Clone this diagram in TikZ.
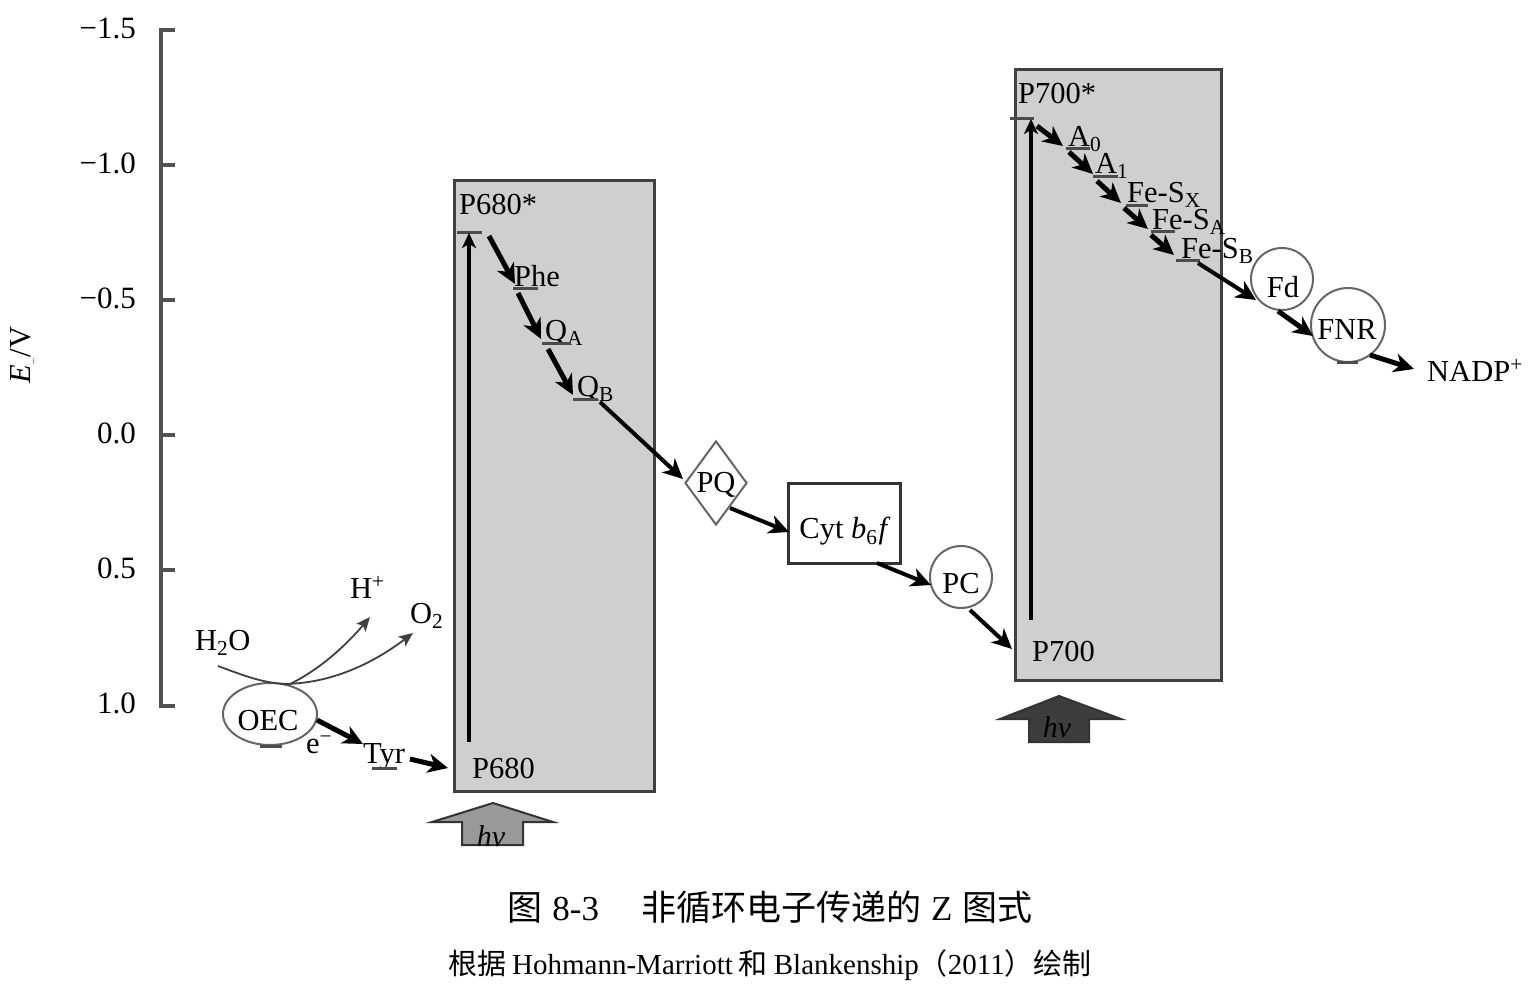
\documentclass[tikz,border=0pt]{standalone}
\usepackage{fontspec}
\setmainfont{Liberation Serif}
\newfontfamily\cjk{Noto Sans CJK SC}
\usetikzlibrary{arrows.meta,shapes.geometric}
\begin{document}
\begin{tikzpicture}[x=1pt,y=-1pt,
  axisline/.style={draw=black!68, line width=3.5pt},
  tlabel/.style={font=\fontsize{31}{33}\selectfont, anchor=east, inner sep=0pt},
  lbl/.style={font=\fontsize{30.5}{33}\selectfont, inner sep=0pt},
  lvl/.style={draw=black!70, line width=3pt},
  psbox/.style={draw=black!75, line width=3pt, fill=black!19, anchor=north west},
  et/.style={line width=5pt, -{Stealth[length=20pt,width=19pt,inset=6pt]}},
  ln/.style={line width=4pt, -{Stealth[length=20pt,width=19pt,inset=6pt]}},
  exc/.style={line width=4pt, -{Stealth[length=15pt,width=14pt,inset=4pt]}},
  carrier/.style={draw=black!60, line width=2pt, inner sep=0pt},
  thinline/.style={line width=1.8pt, draw=black!75},
  thinarr/.style={line width=1.8pt, draw=black!75, -{Stealth[length=14pt,width=12pt,inset=3pt]}},
  hvarrow/.style={draw=black!80, line width=2pt},
  hvtext/.style={font=\fontsize{30}{32}\selectfont\itshape, inner sep=0pt},
]
\useasboundingbox (0,0) rectangle (1531,985);

% ---------- axis ----------
\coordinate (axtop) at (161,30);
\coordinate (axbot) at (161,706);
\draw[axisline] (175,30) -- (axtop) -- (axbot) -- (175,706);
\foreach \yy in {165,300,435,570} \draw[axisline] (161,\yy) -- (175,\yy);
\node[tlabel] (tk1) at (136,28) {−1.5};
\node[tlabel] (tk2) at (136,163) {−1.0};
\node[tlabel] (tk3) at (136,298) {−0.5};
\node[tlabel] (tk4) at (136,433) {0.0};
\node[tlabel] (tk5) at (136,568) {0.5};
\node[tlabel] (tk6) at (136,703) {1.0};
\node[lbl, rotate=90] (ylab) at (22,355) {{\itshape E}\textsubscript{\fontsize{9}{9}\selectfont ...}/V};

% ---------- photosystem boxes ----------
\node[psbox, minimum width=200pt, minimum height=611pt] (ps2) at (453,179) {};
\node[psbox, minimum width=206pt, minimum height=611pt] (ps1) at (1014,68) {};

% ---------- PSII ----------
\node[lbl, anchor=base west] (p680s) at (459,214) {P680*};
\node[lbl, anchor=base west] (p680) at (472,778) {P680};
\coordinate (p2sL) at (457,232); \coordinate (p2sR) at (482,232);
\draw[lvl] (p2sL) -- (p2sR);
\coordinate (p2g) at (469,742); \coordinate (p2e) at (469,233);
\draw[exc] (p2g) -- (p2e);

\node[lbl, anchor=base west] (phe) at (514,286) {Phe};
\coordinate (pheL) at (513,288); \coordinate (pheR) at (538,288);
\draw[lvl] (pheL) -- (pheR);
\node[lbl, anchor=base west] (qa) at (545,340) {Q\textsubscript{A}};
\coordinate (qaL) at (542,343); \coordinate (qaR) at (571,343);
\draw[lvl] (qaL) -- (qaR);
\node[lbl, anchor=base west] (qb) at (577,396) {Q\textsubscript{B}};
\coordinate (qbL) at (573,399); \coordinate (qbR) at (598,399);
\draw[lvl] (qbL) -- (qbR);

\coordinate (s1) at (489,236); \coordinate (e1) at (515,284);
\coordinate (s2) at (518,293); \coordinate (e2) at (541,339);
\coordinate (s3) at (548,349); \coordinate (e3) at (573,395);
\draw[et] (s1) -- (e1);
\draw[et] (s2) -- (e2);
\draw[et] (s3) -- (e3);

% ---------- carriers ----------
\node[diamond, carrier, minimum width=62pt, minimum height=84pt] (pq) at (716,483) {};
\node[lbl] (pqt) at (716,485) {PQ};
\node[draw=black!80, line width=3pt, minimum width=112pt, minimum height=80pt] (cyt) at (844,523) {};
\node[lbl] (cytt) at (845,531) {Cyt \textit{b}\textsubscript{6}\kern1pt\textit{f}};
\node[circle, carrier, minimum size=62pt] (pc) at (961,577) {};
\node[lbl] (pct) at (961,584) {PC};

\coordinate (s4) at (600,402); \coordinate (e4) at (683,479);
\draw[ln] (s4) -- (e4);
\coordinate (s5) at (730,508); \coordinate (e5) at (789,532);
\draw[ln] (s5) -- (e5);
\coordinate (s6) at (877,563); \coordinate (e6) at (931,585);
\draw[ln] (s6) -- (e6);
\coordinate (s7) at (970,610); \coordinate (e7) at (1012,649);
\draw[ln] (s7) -- (e7);

% ---------- PSI ----------
\node[lbl, anchor=base west] (p700s) at (1018,103) {P700*};
\node[lbl, anchor=base west] (p700) at (1032,661) {P700};
\coordinate (p1sL) at (1010,118); \coordinate (p1sR) at (1034,118);
\draw[lvl] (p1sL) -- (p1sR);
\coordinate (p1g) at (1031,620); \coordinate (p1e) at (1031,119);
\draw[exc] (p1g) -- (p1e);

\node[lbl, anchor=base west] (a0) at (1068,146) {A\textsubscript{0}};
\draw[lvl] (1066,148) coordinate (a0L) -- (1090,148) coordinate (a0R);
\node[lbl, anchor=base west] (a1) at (1095,173) {A\textsubscript{1}};
\draw[lvl] (1093,176) coordinate (a1L) -- (1118,176) coordinate (a1R);
\node[lbl, anchor=base west] (fsx) at (1127,202) {Fe-S\textsubscript{X}};
\draw[lvl] (1126,205) coordinate (fsxL) -- (1148,205) coordinate (fsxR);
\node[lbl, anchor=base west] (fsa) at (1152,229) {Fe-S\textsubscript{A}};
\draw[lvl] (1151,231) coordinate (fsaL) -- (1175,231) coordinate (fsaR);
\node[lbl, anchor=base west] (fsb) at (1181,258) {Fe-S\textsubscript{B}};
\draw[lvl] (1176,260) coordinate (fsbL) -- (1200,260) coordinate (fsbR);

\coordinate (s8) at (1037,126); \coordinate (e8) at (1063,146);
\coordinate (s9) at (1069,152); \coordinate (e9) at (1093,174);
\coordinate (s10) at (1097,181); \coordinate (e10) at (1121,203);
\coordinate (s11) at (1124,208); \coordinate (e11) at (1148,229);
\coordinate (s12) at (1151,235); \coordinate (e12) at (1174,255);
\draw[et] (s8) -- (e8);
\draw[et] (s9) -- (e9);
\draw[et] (s10) -- (e10);
\draw[et] (s11) -- (e11);
\draw[et] (s12) -- (e12);

\node[circle, carrier, minimum size=62pt] (fd) at (1282,279) {};
\node[lbl] (fdt) at (1283,287) {Fd};
\node[circle, carrier, minimum size=74pt] (fnr) at (1348,325) {};
\node[lbl] (fnrt) at (1347,330) {FNR};
\draw[lvl] (1337,362) coordinate (fnrL) -- (1358,362) coordinate (fnrR);
\node[lbl, anchor=base west] (nadp) at (1427,381) {NADP\textsuperscript{+}};

\coordinate (s13) at (1198,263); \coordinate (e13) at (1256,300);
\coordinate (s14) at (1278,311); \coordinate (e14) at (1313,336);
\coordinate (s15) at (1370,355); \coordinate (e15) at (1414,369);
\draw[ln] (s13) -- (e13);
\draw[et] (s14) -- (e14);
\draw[et] (s15) -- (e15);

% ---------- water splitting ----------
\node[ellipse, carrier, minimum width=94pt, minimum height=62pt] (oec) at (270,714) {};
\node[lbl] (oect) at (268,721) {OEC};
\draw[lvl] (260,746) coordinate (oecL) -- (282,746) coordinate (oecR);
\node[lbl, anchor=base west] (h2o) at (195,650) {H\textsubscript{2}O};
\node[lbl, anchor=base west] (hplus) at (350,598) {H\textsuperscript{+}};
\node[lbl, anchor=base west] (o2) at (410,623) {O\textsubscript{2}};
\coordinate (w0) at (218,666);
\coordinate (wm) at (290,684);
\coordinate (wo) at (413,633);
\coordinate (wh) at (370,617);
\draw[thinline] (w0) .. controls (245,676) and (265,684) .. (wm);
\draw[thinarr] (282,684) .. controls (330,684) and (372,664) .. (wo);
\draw[thinarr] (wm) .. controls (315,672) and (342,650) .. (wh);

\node[lbl, anchor=base west] (em) at (306,753) {e\textsuperscript{−}};
\node[lbl, anchor=base west] (tyr) at (363,763) {Tyr};
\draw[lvl] (372,768) coordinate (tyrL) -- (397,768) coordinate (tyrR);
\coordinate (s16) at (317,720); \coordinate (e16) at (363,744);
\coordinate (s17) at (410,759); \coordinate (e17) at (448,768);
\draw[et] (s16) -- (e16);
\draw[et] (s17) -- (e17);

% ---------- light ----------
\draw[hvarrow, fill=black!40] (462,845) -- (462,822) -- (432,822) -- (493,803) -- (553,822) -- (523,822) -- (523,845) -- cycle;
\node[hvtext] (hv2) at (491,836) {hν};
\draw[hvarrow, fill=black!76] (1029,742) -- (1029,719) -- (1000,719) -- (1059,696) -- (1121,719) -- (1089,719) -- (1089,742) -- cycle;
\node[hvtext] (hv1) at (1057,727) {hν};

% ---------- caption ----------
\node[font=\fontsize{35}{38}\selectfont, inner sep=0pt] (cap1) at (770,907)
  {{\cjk 图}\hspace{10pt}8-3\hspace{42pt}{\cjk 非循环电子传递的}\hspace{10pt}Z\hspace{10pt}{\cjk 图式}};
\node[font=\fontsize{29}{31}\selectfont, inner sep=0pt] (cap2) at (770,965)
  {{\cjk 根据}\hspace{6pt}Hohmann-Marriott\hspace{6pt}{\cjk 和}\hspace{6pt}Blankenship{\cjk （}2011{\cjk ）绘制}};
\end{tikzpicture}
\end{document}
